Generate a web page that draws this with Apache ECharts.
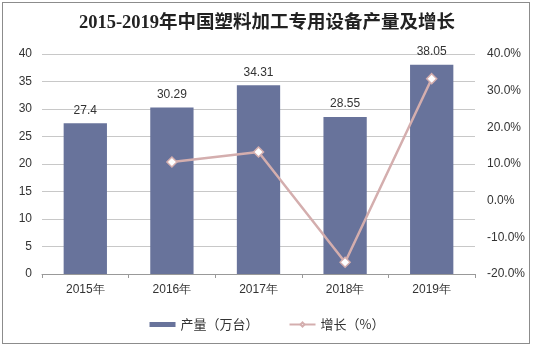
<!DOCTYPE html>
<html><head><meta charset="utf-8">
<script src="https://cdn.jsdelivr.net/npm/echarts@6/dist/echarts.min.js"></script>
<style>html,body{margin:0;padding:0;background:#fff;}#c{width:534px;height:348px;}
#frame{position:absolute;left:2px;top:2px;width:528px;height:342px;border:1px solid #8c8c8c;box-sizing:border-box;pointer-events:none;}</style>
</head><body>
<div id="c"></div><div id="frame"></div>
<script>
const categories = ['2015年','2016年','2017年','2018年','2019年'];
const output = [27.4, 30.29, 34.31, 28.55, 38.05];
const growth = [null, 10.55, 13.27, -16.79, 33.27];
const leftTicks = {min:0, max:40, interval:5};
const rightTicks = {min:-20, max:40, interval:10};

const chart = echarts.init(document.getElementById('c'), null, {renderer:'canvas'});
chart.setOption({
  animation:false,
  backgroundColor:'#fff',
  title:{text:'2015-2019年中国塑料加工专用设备产量及增长', left:'center', top:9,
    textStyle:{fontFamily:'"Liberation Serif","Noto Sans CJK SC",serif', fontWeight:'bold', fontSize:18.5, color:'#222'}},
  grid:{left:42, right:59, top:54, bottom:74},
  legend:{bottom:12, left:'center', itemGap:30, itemWidth:26, itemHeight:5,
    textStyle:{fontSize:13, color:'#333', fontFamily:'"Noto Sans CJK SC",sans-serif'},
    data:[{name:'产量（万台）', icon:'rect'},{name:'增长（%）'}]},
  xAxis:{type:'category', data:categories,
    axisLine:{lineStyle:{color:'#999'}}, axisTick:{show:true, length:4, lineStyle:{color:'#999'}},
    axisLabel:{color:'#333', fontSize:12, margin:10, fontFamily:'"Liberation Sans",Arial,sans-serif'}},
  yAxis:[
    {type:'value', min:leftTicks.min, max:leftTicks.max, interval:leftTicks.interval,
     axisLine:{show:false}, axisTick:{show:false},
     splitLine:{lineStyle:{color:'#c8c8c8'}},
     axisLabel:{color:'#333', fontSize:12, margin:10, fontFamily:'"Liberation Sans",Arial,sans-serif'}},
    {type:'value', min:rightTicks.min, max:rightTicks.max, interval:rightTicks.interval,
     axisLine:{show:false}, axisTick:{show:false}, splitLine:{show:false},
     axisLabel:{color:'#333', fontSize:12, margin:12, fontFamily:'"Liberation Sans",Arial,sans-serif',
       formatter:v=>v.toFixed(1)+'%'}}
  ],
  series:[
    {name:'产量（万台）', type:'bar', data:output, barWidth:'50%',
     itemStyle:{color:'#68739b'},
     label:{show:true, position:'top', color:'#333', fontSize:12, distance:7,
       fontFamily:'"Liberation Sans",Arial,sans-serif'}},
    {name:'增长（%）', type:'line', yAxisIndex:1, data:growth,
     symbol:'diamond', symbolSize:10, connectNulls:false,
     lineStyle:{color:'#d4aeae', width:2.5},
     itemStyle:{color:'#ffffff', borderColor:'#d4aeae', borderWidth:1.5}}
  ]
});
</script>
</body></html>
